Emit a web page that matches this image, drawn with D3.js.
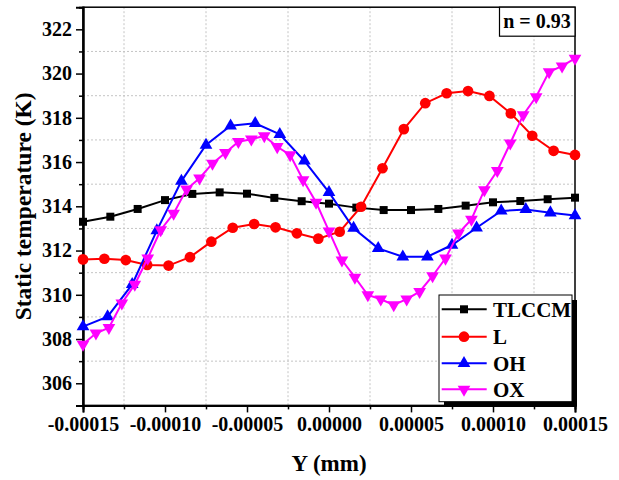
<!DOCTYPE html>
<html><head><meta charset="utf-8">
<script src="https://cdn.jsdelivr.net/npm/d3@7"></script>
<style>body{margin:0;background:#fff}text{font-family:"Liberation Serif","Times New Roman",serif;font-weight:bold}</style>
</head><body><svg id="c" width="619" height="480"></svg>
<script>
// Data (Y in mm)
const xTLCCM = [-0.00015,-0.000133333,-0.000116667,-0.0001,-0.0000833333,-0.0000666667,-0.00005,-0.0000333333,-0.0000166667,0,0.0000166667,0.0000333333,0.00005,0.0000666667,0.0000833333,0.0001,0.000116667,0.000133333,0.00015];
const yTLCCM = [313.30,313.53,313.88,314.28,314.56,314.63,314.57,314.38,314.23,314.12,313.94,313.83,313.83,313.88,314.03,314.18,314.24,314.32,314.39];
const xL = [-0.00015,-0.00013696,-0.00012391,-0.00011087,-0.00009783,-0.00008478,-0.00007174,-0.0000587,-0.00004565,-0.00003261,-0.00001957,-0.00000652,0.00000652,0.00001957,0.00003261,0.00004565,0.0000587,0.00007174,0.00008478,0.00009783,0.00011087,0.00012391,0.00013696,0.00015];
const yL = [311.60,311.63,311.57,311.35,311.32,311.70,312.40,313.03,313.20,313.05,312.78,312.54,312.85,313.98,315.72,317.49,318.66,319.11,319.21,318.99,318.20,317.19,316.51,316.32];
const xOH = [-0.00015,-0.000135,-0.00012,-0.000105,-0.00009,-0.000075,-0.00006,-0.000045,-0.00003,-0.000015,0,0.000015,0.00003,0.000045,0.00006,0.000075,0.00009,0.000105,0.00012,0.000135,0.00015];
const yOH = [308.56,309.01,310.47,312.90,315.14,316.77,317.64,317.75,317.25,316.05,314.63,313.01,312.10,311.72,311.72,312.25,313.03,313.79,313.86,313.71,313.58];
const xOX = [-0.00015,-0.00014211,-0.00013421,-0.00012632,-0.00011842,-0.00011053,-0.00010263,-0.00009474,-0.00008684,-0.00007895,-0.00007105,-0.00006316,-0.00005526,-0.00004737,-0.00003947,-0.00003158,-0.00002368,-0.00001579,-0.00000789,0,0.00000789,0.00001579,0.00002368,0.00003158,0.00003947,0.00004737,0.00005526,0.00006316,0.00007105,0.00007895,0.00008684,0.00009474,0.00010263,0.00011053,0.00011842,0.00012632,0.00013421,0.00014211,0.00015];
const yOX = [307.76,308.26,308.51,309.62,310.47,311.65,312.93,313.68,314.77,315.27,315.94,316.42,316.92,317.03,317.18,316.69,316.32,315.19,314.18,312.88,311.57,310.79,309.99,309.80,309.54,309.80,310.14,310.85,311.65,312.78,313.41,314.74,315.61,316.85,318.13,318.95,320.08,320.34,320.69];
const seriesNames = ["TLCCM","L","OH","OX"];
const seriesColors = ["#000000","#ff0000","#0000ff","#ff00ff"];
const xTicks = [-0.00015,-0.0001,-0.00005,0,0.00005,0.0001,0.00015];
const xTickLabels = ["-0.00015","-0.00010","-0.00005","0.00000","0.00005","0.00010","0.00015"];
const yTicks = [306,308,310,312,314,316,318,320,322];
const xGrid = [-0.000125,-0.000075,-0.000025,0.000025,0.000075,0.000125];
const yGrid = [307,309,311,313,315,317,319,321];
const annotation = "n = 0.93";

const svg = d3.select("#c");
const L = 83, R = 575, T = 7.2, B = 405.4;
const x = d3.scaleLinear().domain([-0.00015,0.00015]).range([L,R]);
const y = d3.scaleLinear().domain([305,323]).range([B,T]);

// grid
const g = svg.append("g");
g.selectAll(".gx").data(xGrid).enter().append("line")
 .attr("x1",d=>x(d)).attr("x2",d=>x(d)).attr("y1",T).attr("y2",B)
 .attr("stroke","#c4c4c4").attr("stroke-width",1).attr("stroke-dasharray","2,2");
g.selectAll(".gy").data(yGrid).enter().append("line")
 .attr("y1",d=>y(d)).attr("y2",d=>y(d)).attr("x1",L).attr("x2",R)
 .attr("stroke","#c4c4c4").attr("stroke-width",1).attr("stroke-dasharray","2,2");

// frame
svg.append("rect").attr("x",L).attr("y",T).attr("width",R-L).attr("height",B-T)
 .attr("fill","none").attr("stroke","#000").attr("stroke-width",1.5);

// axes
const xAxis = d3.axisBottom(x).tickValues(xTicks).tickFormat((d,i)=>xTickLabels[i]).tickSize(7).tickPadding(4);
const xa = svg.append("g").attr("transform",`translate(0,${B})`).call(xAxis);
const xMinor = d3.axisBottom(x).tickValues(xGrid).tickFormat("").tickSize(4);
const xm = svg.append("g").attr("transform",`translate(0,${B})`).call(xMinor);
const yAxis = d3.axisLeft(y).tickValues(yTicks).tickSize(7).tickPadding(4);
const ya = svg.append("g").attr("transform",`translate(${L},0)`).call(yAxis);
const yMinor = d3.axisLeft(y).tickValues(yGrid).tickFormat("").tickSize(4);
const ym = svg.append("g").attr("transform",`translate(${L},0)`).call(yMinor);
[xa,xm,ya,ym].forEach(a=>{
  a.select(".domain").attr("stroke","#000").attr("stroke-width",2);
  a.selectAll(".tick line").attr("stroke","#000").attr("stroke-width",1.5);
  a.selectAll("text").attr("font-family",'"Liberation Serif","Times New Roman",serif').attr("font-weight","bold").attr("font-size",20).attr("fill","#000");
});

// axis titles
svg.append("text").attr("x",(L+R)/2).attr("y",471).attr("text-anchor","middle").attr("font-size",23).text("Y (mm)");
svg.append("text").attr("transform",`translate(31,${(T+B)/2}) rotate(-90)`).attr("text-anchor","middle").attr("font-size",23.5).text("Static temperature (K)");

// series
const xs = [xTLCCM,xL,xOH,xOX], ys=[yTLCCM,yL,yOH,yOX];
const syms = [d3.symbolSquare,d3.symbolCircle,d3.symbolTriangle,d3.symbolTriangle];
const sizes = [64,90,70,70];
const rots = [0,0,0,180];
const line = d3.line().x(d=>x(d[0])).y(d=>y(d[1]));
xs.forEach((xv,k)=>{
  const pts = xv.map((v,i)=>[v,ys[k][i]]);
  svg.append("path").datum(pts).attr("d",line).attr("fill","none").attr("stroke",seriesColors[k]).attr("stroke-width",2);
  svg.append("g").selectAll("path").data(pts).enter().append("path")
   .attr("d",d3.symbol().type(syms[k]).size(sizes[k]))
   .attr("transform",d=>`translate(${x(d[0])},${y(d[1])}) rotate(${rots[k]})`)
   .attr("fill",seriesColors[k]);
});

// annotation box
svg.append("rect").attr("x",499.5).attr("y",T).attr("width",R-499.5).attr("height",29).attr("fill","#fff").attr("stroke","#000").attr("stroke-width",1.2);
svg.append("text").attr("x",537).attr("y",28).attr("text-anchor","middle").attr("font-size",20).text(annotation);

// legend
const lx=439, ly=295, lw=133, lh=106.7;
svg.append("rect").attr("x",lx+5).attr("y",ly+5).attr("width",lw).attr("height",lh).attr("fill","#000");
svg.append("rect").attr("x",lx).attr("y",ly).attr("width",lw).attr("height",lh).attr("fill","#fff").attr("stroke","#000").attr("stroke-width",1);
const rowY=[309.3,336.7,363.3,389.3];
seriesNames.forEach((n,k)=>{
  svg.append("line").attr("x1",441.7).attr("x2",486.7).attr("y1",rowY[k]).attr("y2",rowY[k]).attr("stroke",seriesColors[k]).attr("stroke-width",2);
  svg.append("path").attr("d",d3.symbol().type(syms[k]).size(sizes[k]))
   .attr("transform",`translate(464,${rowY[k]}) rotate(${rots[k]})`).attr("fill",seriesColors[k]);
  svg.append("text").attr("x",493).attr("y",rowY[k]+7.5).attr("font-size",21).text(n);
});
</script></body></html>
